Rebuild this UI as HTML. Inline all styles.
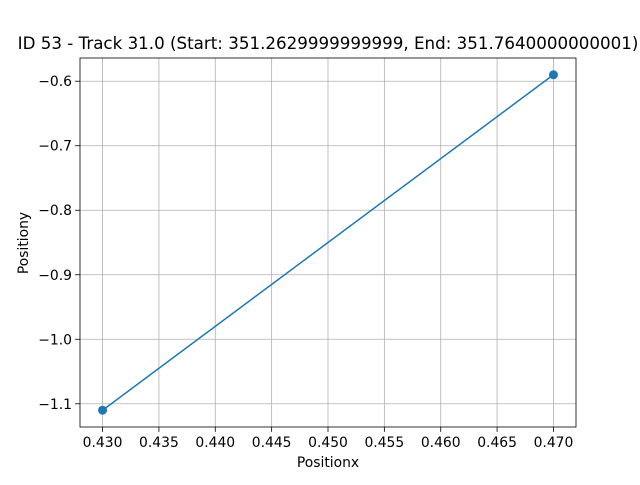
<!DOCTYPE html>
<html><head><meta charset="utf-8"><style>
body{margin:0;background:#fff;}
svg text{font-family:"DejaVu Sans","Liberation Sans",sans-serif;fill:#000;}
</style></head><body>
<svg id="chart" width="640" height="480" xmlns="http://www.w3.org/2000/svg"></svg>
<script>
const xValues=[0.430,0.470];
const yValues=[-1.11,-0.59];
const xTicks=[0.430,0.435,0.440,0.445,0.450,0.455,0.460,0.465,0.470];
const yTicks=[-1.1,-1.0,-0.9,-0.8,-0.7,-0.6];
const L=80,R=576,T=58,B=427;
const xMin=0.428,xMax=0.472,yMin=-1.136,yMax=-0.564;
const sx=v=>L+(v-xMin)/(xMax-xMin)*(R-L);
const sy=v=>B-(v-yMin)/(yMax-yMin)*(B-T);
const svg=document.getElementById('chart');
const NS='http://www.w3.org/2000/svg';
function mk(tag,attrs,parent){const e=document.createElementNS(NS,tag);for(const k in attrs)e.setAttribute(k,attrs[k]);(parent||svg).appendChild(e);return e;}
xTicks.forEach(v=>{const x=sx(v);
 let g=mk('line',{x1:x,x2:x,y1:T,y2:B,stroke:'#b0b0b0','stroke-width':0.8});
 
 
 let t=mk('line',{x1:x,x2:x,y1:B,y2:B+4.9,stroke:'#000','stroke-width':0.8});
 
 
 let l=mk('text',{x:x,y:B+20,'text-anchor':'middle','font-size':13.9});
 l.textContent=v.toFixed(3);
 
 
});
yTicks.forEach(v=>{const y=sy(v);
 let g=mk('line',{x1:L,x2:R,y1:y,y2:y,stroke:'#b0b0b0','stroke-width':0.8});
 
 
 let t=mk('line',{x1:L-4.9,x2:L,y1:y,y2:y,stroke:'#000','stroke-width':0.8});
 
 
 let l=mk('text',{x:L-8,y:y+5,'text-anchor':'end','font-size':13.9});
 l.textContent=v.toFixed(1).replace('-','\u2212');
 
 
});
let pts=xValues.map((v,i)=>sx(v)+','+sy(yValues[i])).join(' ');
let line=mk('polyline',{points:pts,fill:'none',stroke:'#1f77b4','stroke-width':1.5});


xValues.forEach((v,i)=>{let c=mk('circle',{cx:sx(v),cy:sy(yValues[i]),r:4.5,fill:'#1f77b4'});
 
 
});
let f=mk('rect',{x:L,y:T,width:R-L,height:B-T,fill:'none',stroke:'#000','stroke-width':0.8});


let ti=mk('text',{x:328,y:49,'text-anchor':'middle','font-size':16.7});
ti.textContent='ID 53 - Track 31.0 (Start: 351.2629999999999, End: 351.7640000000001)';


let xl=mk('text',{x:328,y:467,'text-anchor':'middle','font-size':13.9});
xl.textContent='Positionx';


let yl=mk('text',{x:28,y:243,'text-anchor':'middle','font-size':13.9,transform:'rotate(-90 28 243)'});
yl.textContent='Positiony';


</script>
</body></html>
